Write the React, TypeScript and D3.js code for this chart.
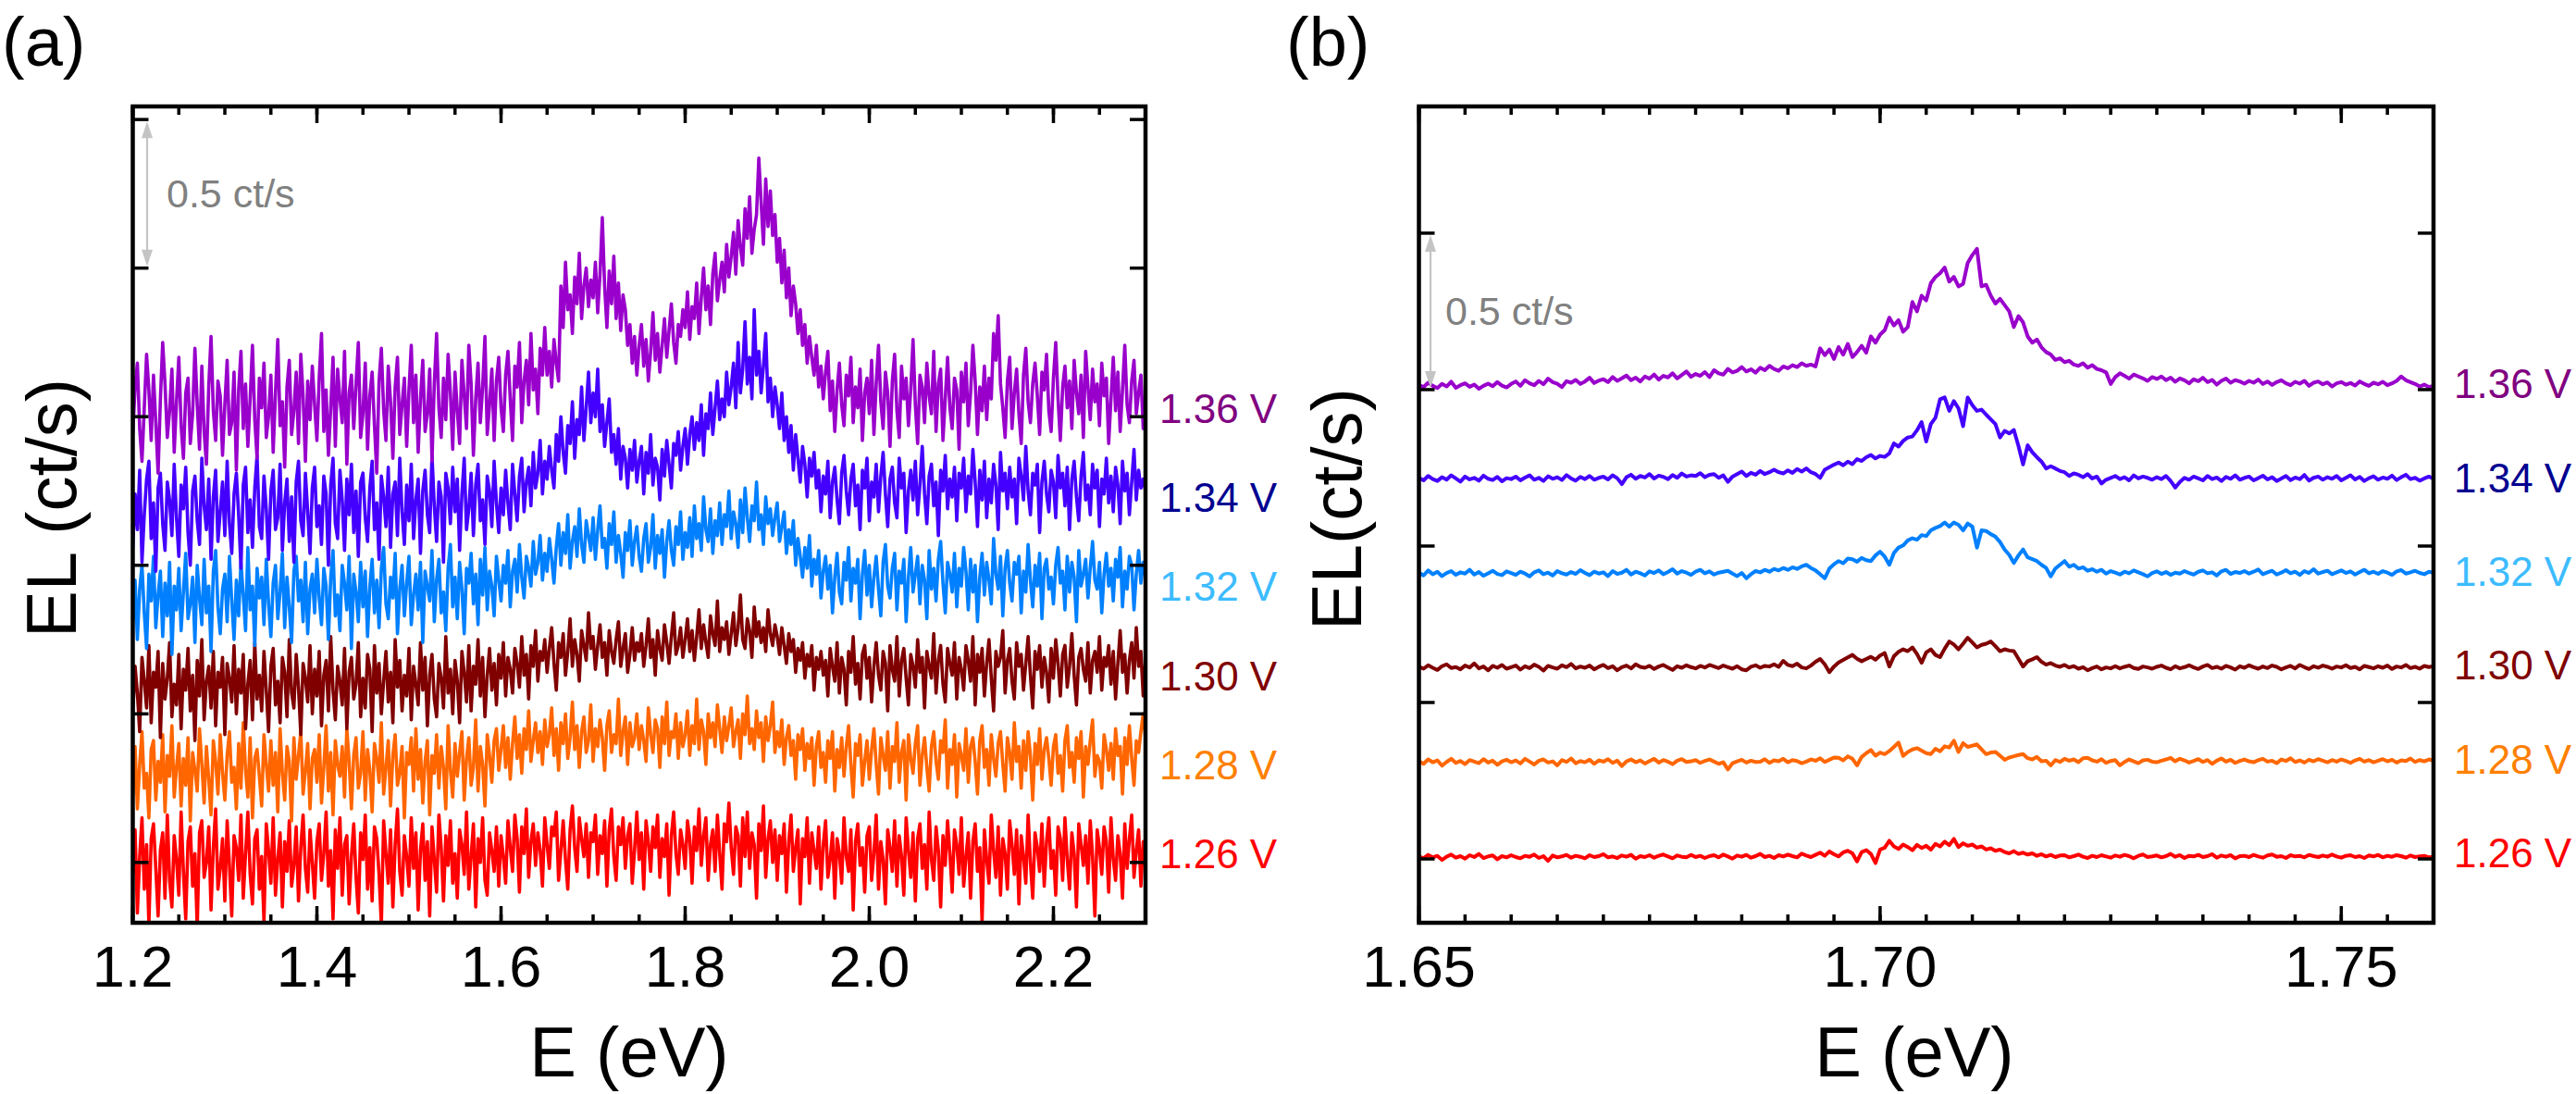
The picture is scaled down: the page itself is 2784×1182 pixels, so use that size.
import { useEffect } from "react";
import * as d3 from "d3";

// stacked EL spectra, one per bias voltage (top to bottom)
const voltages = ["1.36 V", "1.34 V", "1.32 V", "1.30 V", "1.28 V", "1.26 V"];
const offsets = [1.5, 1.2, 0.9, 0.6, 0.3, 0];
const traceColors = ["#9900cc", "#4400ff", "#0080ff", "#800000", "#ff6600", "#ff0000"];
const labelColors = ["#800080", "#000090", "#3cbcff", "#800000", "#ff8000", "#ff0000"];

// (a) wide scan: 1.2000-2.3000 eV every 2.5 meV, values in 0.01 ct/s above the offset
const eStartA = 1.2;
const eStepA = 0.0025;
const elA136 = [
  -6, 10, 18, -4, -15, 3, 21, 9, -8, 14, -2, -19, 6, 25, 11, -7, 2, 16, -12, 5,
  20, -3, -14, 8, 13, -9, 1, 23, 4, -11, 17, -5, -16, 10, 27, 2, -8, 12, 7, -13,
  4, 19, -6, -2, 15, -18, 9, 22, -4, 11, -10, 6, 24, -1, -14, 13, 3, 18, -7, 0,
  14, -12, 8, 26, -3, 5, -17, 10, 19, -6, 2, 15, -9, 21, 7, -15, 12, -1, 17, 4,
  -8, 13, 28, -5, 9, -13, 3, 20, -10, 16, 6, -2, 22, -16, 8, 14, -4, 11, 25, -7,
  1, 18, -11, 7, 15, -3, -19, 12, 23, 2, -8, 17, 5, -14, 10, 20, -6, 4, 13, -10,
  9, 24, -2, 14, -12, 6, 19, -5, 1, 16, -15, 11, 28, 3, -7, 13, -1, 21, 8, -11,
  15, 2, -9, 19, 7, -4, 24, 11, -13, 6, 18, -2, 10, 27, -6, 4, 16, -8, 12, 20,
  3, -5, 14, 22, 6, -8, 17, 10, 25, -2, 12, 19, 4, 28, 9, 16, 1, 23, 14, 30,
  14, 22, 10, 26, 18, 12, 44, 30, 52, 36, 41, 28, 47, 38, 55, 33, 44, 50, 37, 46,
  40, 52, 35, 48, 67, 44, 30, 49, 38, 54, 33, 45, 29, 41, 36, 24, 31, 18, 27, 14,
  24, 31, 17, 26, 12, 22, 35, 19, 28, 15, 24, 33, 20, 29, 38, 25, 18, 31, 27, 36,
  30, 42, 26, 37, 33, 45, 28, 40, 50, 36, 44, 31, 48, 55, 39, 46, 52, 42, 58, 47,
  54, 62, 48, 66, 57, 51, 70, 60, 74, 55, 63, 68, 87, 72, 58, 80, 64, 76, 61, 68,
  52, 60, 45, 56, 40, 50, 34, 44, 38, 28, 36, 24, 31, 18, 27, 20, 14, 24, 10, 17,
  6, 15, 22, 2, 12, -5, 9, 18, 4, -3, 14, 7, 20, -2, 10, 3, 16, -8, 8, 13,
  1, 19, -6, 11, 24, 5, -4, 15, 8, -10, 12, 21, 2, -7, 17, 6, 13, -3, 9, 26,
  4, -9, 14, 10, -2, 18, 7, 1, 22, -5, 11, 16, -8, 6, 20, 3, -4, 13, 9, -11,
  15, 5, 18, -3, 8, 24, 12, -6, 10, 2, 17, -1, 13, 6, 28, 19, 34, 11, 3, -7,
  12, 20, -4, 8, 16, 1, -9, 14, 23, 5, -2, 11, 18, 7, -6, 15, 9, 21, 2, -5,
  13, 25, 6, -8, 10, 17, 3, 12, -4, 19, 8, 1, 14, -7, 22, 10, -1, 16, 5, 11,
  -3, 18, 7, 13, -9, 6, 20, 2, 15, -5, 9, 24, 4, -2, 12, 19, 1, 8, 14, -4,
  6,
];
const elA134 = [
  -14, 4, -8, 12, -19, -3, 9, 15, -11, 1, -22, 6, 11, -6, -15, 8, 2, -10, 14, -4,
  -17, 7, -1, 13, -9, -20, 5, 10, -5, -13, 16, 0, -8, 9, -18, 3, 12, -12, -2, 8,
  -10, 15, -6, -16, 4, 11, -3, -21, 7, 13, -9, 2, -14, 6, 17, -7, -11, 10, -1, -18,
  5, 12, -8, -4, 14, -15, 1, 9, -12, 3, -19, 8, 15, -5, -10, 11, -2, -16, 6, 13,
  -7, 0, -13, 10, 4, -20, 7, 16, -6, -11, 12, 2, -15, 9, -3, 14, -9, 5, -17, 8,
  11, -4, -12, 6, 15, -8, 1, -18, 10, 3, -7, 13, -14, 4, 8, -10, 16, -2, -13, 7,
  -5, 14, -11, 2, 9, -16, 5, 12, -3, -9, 17, 0, -12, 8, 3, -19, 11, 6, -6, 13,
  -2, 9, -15, 4, 16, -8, -1, 11, -10, 7, 14, -5, 2, -13, 10, 5, -7, 15, 1, -9,
  6, -3, 12, 1, -8, 14, 4, -5, 10, 16, -2, 8, 13, 0, 18, 6, 11, 22, 4, 15,
  9, 20, 12, 6, 24, 15, 30, 18, 11, 27, 21, 35, 16, 29, 24, 40, 22, 33, 45, 28,
  38, 30, 46, 25, 34, 20, 28, 36, 18, 24, 14, 26, 9, 20, 16, 6, 19, 12, 22, 8,
  15, 20, 4, 18, 11, 24, 7, 16, 13, 2, 19, 10, 22, 14, 6, 21, 17, 25, 12, 20,
  26, 14, 24, 30, 19, 28, 22, 34, 17, 31, 26, 38, 24, 33, 42, 29, 36, 30, 45, 34,
  40, 48, 33, 55, 38, 46, 62, 41, 50, 36, 66, 44, 52, 38, 47, 58, 35, 43, 30, 40,
  34, 26, 38, 22, 30, 18, 27, 12, 24, 16, 8, 20, 14, 3, 16, 10, 18, 6, 12, -2,
  10, 4, 15, -4, 8, 13, 2, -6, 11, 17, 5, -3, 9, 14, 0, 7, -8, 12, 6, 16,
  -5, 8, 3, 14, -2, 10, 18, 4, -7, 9, 13, 1, -4, 16, 6, 11, -9, 5, 12, 2,
  15, -3, 7, 20, 4, -6, 10, 14, 0, 8, -10, 12, 5, 17, -1, 9, 3, 13, -5, 11,
  6, 16, -2, 10, 4, 19, 8, -7, 12, 2, 15, -4, 9, 1, 14, 7, -8, 18, 5, 11,
  -1, 13, 3, 9, -6, 16, 10, 2, 20, 5, -3, 11, 7, 14, -9, 8, 15, 4, -2, 12,
  8, -4, 17, 6, 11, 0, 13, -8, 9, 15, 3, -5, 10, 18, 2, 7, -3, 14, 6, 12,
  -7, 9, 4, 16, 1, 10, -2, 13, 7, -6, 15, 5, 11, -3, 8, 19, 2, 12, 6, 9,
  5,
];
const elA132 = [
  -9, 5, -15, 2, 10, -6, -18, 7, -2, 13, -11, 0, 8, -14, 4, -7, 11, -20, 3, -5,
  9, -12, 1, 14, -8, -3, 6, -16, 10, -1, -10, 12, -6, 3, -19, 8, 15, -4, -13, 2,
  7, -9, 13, -2, -15, 5, -7, 11, 0, -12, 16, -5, 3, -17, 9, -1, 6, -10, 12, -3,
  -14, 4, 10, -8, 1, 14, -11, 6, -4, -16, 8, 13, -2, 5, -9, 11, -13, 2, 7, -6,
  12, -1, -10, 9, 3, -15, 6, 15, -7, 0, -12, 10, 4, -5, 13, -18, 7, 1, -9, 11,
  -4, 8, -14, 3, 12, -6, 5, -11, 9, 16, -3, -8, 6, -1, 14, -13, 2, 10, -7, 4,
  13, -10, 0, 7, -5, 11, -16, 8, 3, -2, 15, -9, 5, 12, -6, 1, -12, 9, 17, -4,
  6, -8, 11, 2, -13, 9, 4, 14, -3, 7, -10, 12, 0, 16, -5, 8, 3, -7, 13, 5,
  -2, 10, 4, 15, -4, 8, 12, 1, 17, 6, -1, 13, 9, 3, 18, 7, 11, 20, 5, 14,
  8, 19, 12, 4, 16, 24, 10, 21, 14, 27, 9, 18, 23, 13, 29, 17, 11, 25, 20, 15,
  26, 12, 22, 30, 16, 19, 9, 24, 17, 28, 11, 20, 14, 6, 21, 15, 25, 10, 18, 23,
  13, 8, 19, 24, 11, 16, 27, 9, 20, 14, 22, 6, 18, 25, 15, 10, 23, 17, 28, 12,
  21, 16, 26, 13, 30, 19, 24, 15, 33, 22, 18, 29, 14, 25, 20, 31, 17, 27, 23, 35,
  19, 28, 24, 16, 32, 21, 36, 26, 18, 30, 25, 38, 22, 27, 17, 33, 24, 29, 20, 26,
  31, 18, 23, 28, 14, 22, 17, 25, 10, 19, 13, 6, 16, 9, 20, 3, 12, 7, 15, -1,
  8, 13, 2, 10, -6, 6, 14, 1, -3, 11, 5, 16, -2, 9, 4, 12, -8, 7, 15, 0,
  10, -4, 6, 13, 2, -7, 11, 17, 3, -1, 9, 14, -5, 8, 4, 12, -9, 6, 16, 1,
  7, 13, -3, 10, 5, -8, 15, 2, 9, -2, 12, 18, 4, -6, 11, 7, 1, 14, -4, 9,
  3, 16, 8, -5, 12, 1, 10, -9, 6, 14, 0, 11, 5, -3, 19, 7, 2, 13, -7, 9,
  15, 4, -2, 11, 7, 13, -6, 8, 1, 17, 5, -4, 10, 3, 14, -8, 9, 12, 2, 6,
  -3, 10, 16, 4, 8, -5, 13, 1, 11, 6, -9, 15, 3, 7, 12, -1, 9, 18, 5, 2,
  11, -6, 7, 14, 3, 9, -2, 12, 6, 16, -4, 8, 2, 13, 10, -5, 7, 15, 4, 11,
  6,
];
const elA130 = [
  -10, 6, -3, -16, 9, 1, -8, 13, -13, 4, -1, 11, -18, 7, -5, 2, 14, -11, 0, -7,
  10, -15, 5, -2, 12, -9, 3, -19, 8, -4, 15, -12, 1, 6, -8, 11, -14, 4, -1, 9,
  -17, 7, 2, -6, 13, -10, 5, -3, 10, -15, 0, 8, -12, 14, -5, 3, -9, 11, -2, -16,
  6, 12, -7, 1, -13, 9, 4, -11, 15, -3, -8, 10, -1, -17, 7, 2, -6, 13, -10, 5,
  -4, 11, -14, 3, 8, -9, 16, -2, -12, 6, 1, -7, 12, -15, 4, 9, -5, 0, 14, -11,
  2, -8, 10, 5, -16, 13, -3, 7, -10, 1, 11, -6, 4, -13, 15, -1, 8, -9, 3, -4,
  12, -12, 6, 0, -7, 14, -2, 9, -14, 3, 10, -5, -11, 7, 2, -8, 16, -3, 5, -10,
  8, 1, -13, 11, 4, -6, 13, -9, 6, 0, 15, -4, 9, -11, 3, 12, -2, 7, -7, 10,
  2, 14, -4, 9, 5, -3, 12, 7, -1, 16, 3, 10, -5, 13, 6, 18, 1, 11, 8, 15,
  4, 12, 19, 7, -2, 14, 9, 17, 3, 11, 22, 6, 15, 10, 1, 18, 13, 8, 24, 12,
  16, 5, 13, 20, 9, 14, 3, 18, 11, 7, 15, 21, 6, 12, 17, 4, 10, 19, 8, 14,
  11, 17, 6, 13, 22, 9, 15, 3, 18, 12, 8, 20, 14, 7, 16, 24, 10, 13, 19, 9,
  15, 22, 11, 18, 8, 16, 25, 12, 20, 14, 9, 23, 17, 13, 28, 11, 19, 15, 21, 10,
  17, 24, 13, 19, 30, 15, 12, 22, 18, 9, 26, 16, 21, 14, 19, 11, 25, 17, 13, 20,
  16, 10, 19, 13, 7, 17, 11, 15, 4, 12, 8, 14, 2, 10, 6, 13, -2, 9, 5, 11,
  3, 8, -4, 12, 6, 1, 14, -3, 9, 5, -7, 11, 4, 16, 0, 7, -5, 10, 13, 2,
  9, -6, 6, 14, 3, -2, 11, 7, -9, 13, 5, 1, 16, -4, 8, 12, 2, -7, 10, 6,
  -1, 15, 4, 9, -8, 11, 6, 2, 17, -3, 8, 13, 0, -6, 12, 7, 3, 14, -5, 9,
  5, -2, 13, 8, 1, 16, -7, 10, 4, 12, -4, 7, 15, 2, -9, 11, 6, 9, 18, -3,
  8, 12, 1, -5, 14, 6, 10, -2, 7, 16, 3, -8, 11, 5, 13, -1, 9, 4, -6, 12,
  2, 15, 7, -4, 10, 13, -1, 6, 17, 3, -7, 9, 12, 5, 1, 14, -3, 8, 11, 4,
  16, -2, 9, 6, 13, 0, 11, -5, 7, 18, 4, 10, -3, 8, 14, 2, 19, 6, 11, -4,
  8,
];
const elA128 = [
  -7, 9, -12, 3, 14, -5, 0, -15, 8, 11, -9, 4, -3, 13, -13, 6, -1, 16, -8, 2,
  10, -11, 5, -4, 12, -16, 7, 1, -6, 15, 3, -10, 9, -2, -14, 11, 4, -7, 13, 0,
  -9, 6, 14, -3, 2, -12, 10, -5, 17, 1, -8, 12, -15, 5, 8, -1, -11, 13, 3, -6,
  11, -4, 7, -13, 15, 0, -9, 9, 4, -16, 12, -2, 6, 14, -7, 1, 10, -12, 5, 8,
  -3, 13, -10, 2, 16, -6, 7, -14, 11, 3, -1, 9, -8, 15, 4, -12, 6, 12, -5, 0,
  14, -9, 8, 1, -13, 10, 5, -3, 17, -7, 2, 11, -11, 6, 13, -4, 0, 9, -15, 7,
  3, 12, -6, 15, -2, 8, -10, 4, 11, -14, 6, 0, 13, -5, 9, 2, -12, 16, 1, -8,
  10, -1, 7, 14, -9, 5, 12, -4, 2, 18, -6, 9, 3, -11, 13, 6, -3, 11, 15, 1,
  8, 16, 2, 12, -2, 10, 19, 5, 13, 0, 15, 8, 21, 4, 11, 17, 7, 14, 3, 18,
  9, 13, 22, 6, 15, 1, 17, 10, 20, 5, 12, 24, 8, 16, 2, 14, 19, 7, 11, 23,
  4, 15, 9, 18, 12, 1, 16, 21, 7, 13, 10, 25, 6, 14, 19, 3, 17, 9, 12, 20,
  8, 16, 11, 4, 22, 13, 7, 18, 15, 2, 19, 10, 24, 6, 14, 12, 20, 5, 17, 9,
  13, 21, 6, 16, 10, 25, 8, 18, 14, 3, 20, 12, 17, 9, 23, 15, 7, 19, 11, 16,
  22, 9, 14, 18, 5, 20, 13, 26, 10, 15, 8, 21, 12, 17, 4, 19, 11, 16, 24, 7,
  14, 9, 18, 3, 12, 16, 6, 11, -2, 13, 8, 15, 1, 10, 5, 12, -4, 9, 14, 2,
  7, -3, 11, 5, 14, -6, 8, 2, 12, -1, 9, 16, 3, -8, 10, 6, 13, -4, 4, 11,
  -2, 8, 15, 3, -7, 12, 6, 1, 14, -5, 9, 4, 17, -3, 7, 11, -9, 13, 5, 0,
  10, 16, -4, 6, 12, 2, -6, 9, 14, 4, -2, 11, 7, 18, -5, 8, 3, 13, -8, 10,
  6, 1, 15, -3, 9, 12, 4, -7, 11, 16, 2, 8, -4, 13, 5, -1, 10, 14, 3, -6,
  12, 7, -2, 17, 4, 9, -5, 11, 1, 14, 6, -9, 10, 3, 15, -2, 8, 12, 5, -4,
  9, 13, 0, 6, -6, 11, 16, 2, 7, -3, 12, 5, 14, -8, 9, 3, 11, 18, -1, 6,
  4, -5, 13, 8, 1, 10, -2, 15, 6, 9, -7, 12, 3, 16, 5, -4, 11, 7, 14, 20,
  12,
];
const elA126 = [
  -4, 11, -17, 2, 15, -9, 6, -21, 8, 13, -2, -18, 4, 10, -12, 16, -6, -15, 9, 1,
  -11, 17, -3, -19, 7, 12, -8, 3, -22, 10, 14, -5, 0, 12, -16, 5, 18, -9, -2, 8,
  -13, 14, -1, -18, 9, 5, -6, 16, -12, 3, 17, -4, -14, 8, 11, -9, 2, -20, 13, 4,
  -7, 15, -11, 1, 10, -15, 7, -3, 14, -8, -1, 12, -13, 5, 16, -2, -10, 11, 0, -12,
  7, 13, -6, 3, 17, -8, 4, -19, 11, -2, 15, -11, 6, 9, -14, 2, 13, -5, -17, 10,
  1, 16, -9, 5, -13, 12, 8, -4, -21, 14, 3, -7, 11, -15, 6, 18, -3, -11, 9, 2,
  -8, 15, -2, 10, -16, 4, 13, -6, 7, -18, 12, 1, -10, 16, 5, -13, 9, -1, 14, -7,
  3, -12, 11, 6, -4, 17, -9, 2, 13, -15, 8, 0, 15, -6, -11, 10, 4, -3, 12, -8,
  9, 2, -7, 14, 5, -3, 16, 8, -10, 12, 3, 18, -5, 7, 13, -1, 10, 4, -8, 15,
  6, -2, 12, 9, 17, -6, 4, 14, 1, -9, 11, 19, 5, -3, 15, 8, 2, 13, -5, 10,
  7, 16, -4, 9, 3, 14, -8, 11, 18, 2, -6, 12, 6, 15, -2, 9, 13, -7, 4, 17,
  1, 10, -9, 14, 7, -3, 12, 5, 16, -5, 8, 2, 13, -11, 9, 17, 3, -4, 11, 6,
  -2, 14, 8, -7, 12, 4, 18, -1, 9, 15, -6, 6, 11, -3, 16, 3, -9, 13, 7, 20,
  5, -4, 12, 9, -8, 15, 2, 17, -2, 10, 6, -12, 13, 4, 19, -5, 8, 14, 0, 11,
  -6, 9, 3, 13, -10, 7, 16, -3, 5, 11, -14, 8, 2, 15, -7, 10, 4, -2, 12, -9,
  6, 14, -5, 1, 10, -12, 8, 3, -7, 15, 2, -3, 11, -16, 7, 13, -1, 5, -10, 9,
  12, -6, 3, 16, -9, 7, 1, -14, 11, 5, -3, 14, -8, 9, 2, -11, 15, 4, -5, 10,
  -13, 8, 13, -2, 6, -9, 17, 1, -6, 12, 4, -15, 9, -1, 14, 3, -10, 11, 6, -4,
  15, -8, 2, 10, -12, 7, 13, -3, 5, -20, 11, 1, -7, 16, 4, -5, 12, -11, 8, 3,
  -9, 14, 6, -4, 11, -14, 9, 2, -7, 16, 0, -12, 10, 5, -3, 13, -8, 7, 15, -2,
  4, -11, 12, 8, -6, 15, 1, -9, 10, 3, -15, 13, 6, -1, 9, -7, 14, 2, -18, 11,
  5, -4, 12, 7, -10, 15, 1, -6, 9, 3, -12, 13, -2, 8, 16, -5, 4, 11, -8, 7,
  2,
];

// (b) zoom on the peak: 1.650-1.760 eV every 0.5 meV, values in 0.001 ct/s above the offset
const eStartB = 1.65;
const eStepB = 0.0005;
const elB136 = [
  15, 8, 22, 12, 5, 18, 10, 25, 6, 14, 20, 9, 16, 3, 12, 19, 11, 24, 13, 7,
  18, 26, 12, 30, 20, 14, 28, 17, 35, 24, 19, 8, 27, 22, 31, 18, 26, 38, 21, 29,
  33, 24, 40, 28, 36, 45, 30, 38, 26, 42, 35, 48, 32, 44, 39, 52, 36, 47, 58, 41,
  50, 44, 56, 40, 62, 52, 48, 66, 55, 60, 72, 58, 65, 54, 70, 62, 76, 66, 60, 74,
  68, 78, 72, 84, 76, 80, 74, 132, 110, 128, 98, 136, 112, 146, 104, 120, 140, 118, 170, 150,
  176, 190, 230, 205, 222, 185, 200, 280, 250, 300, 285, 340, 360, 372, 390, 345, 360, 330, 338, 405,
  430, 450, 330, 335, 300, 275, 290, 270, 250, 200, 235, 215, 170, 150, 160, 135, 120, 112, 95, 100,
  88, 92, 80, 76, 84, 70, 78, 66, 62, 55, 18, 40, 52, 44, 35, 48, 42, 36, 28, 40,
  34, 42, 30, 38, 25, 36, 30, 20, 33, 27, 38, 24, 31, 16, 28, 35, 22, 30, 26, 19,
  28, 22, 32, 18, 26, 15, 24, 30, 20, 14, 25, 19, 28, 12, 22, 26, 17, 23, 10, 20,
  24, 16, 21, 13, 26, 18, 12, 22, 17, 25, 14, 20, 28, 42, 30, 24, 18, 10, 16, 8, 12,
];
const elB134 = [
  18, 10, 24, 14, 8, 20, 12, 26, 16, 6, 22, 13, 18, 9, 25, 15, 11, 21, 7, 17,
  14, 22, 10, 19, 26, 12, 18, 8, 23, 15, 20, 11, 27, 16, 9, 21, 14, 24, 12, 18,
  22, 13, 26, 17, -2, 20, 28, 15, 24, 19, 30, 16, 25, 21, 14, 27, 18, 32, 22, 26,
  24, 33, 20, 28, 30, 18, 26, 5, 22, 30, 38, 24, 34, 28, 40, 30, 36, 44, 36, 32,
  42, 34, 46, 38, 48, 36, 30, 18, 44, 52, 60, 67, 58, 70, 62, 78, 72, 84, 91, 80,
  88, 85, 96, 128, 118, 136, 147, 150, 170, 196, 134, 190, 210, 269, 275, 232, 263, 240, 183, 275,
  250, 232, 236, 220, 205, 190, 147, 168, 160, 171, 120, 61, 122, 100, 84, 70, 48, 55, 48, 40,
  36, 24, 32, 28, 20, 30, 16, 22, 0, 12, 18, 24, 14, 20, 10, 26, 16, 22, 18, 12,
  20, 14, 24, 8, -13, 5, 18, 12, 22, 16, 10, 24, 14, 19, 8, 21, 15, 26, 12, 18,
  22, 10, 17, 25, 13, 20, 8, 16, 24, 11, 19, 14, 27, 9, 18, 22, 12, 20, 15, 24,
  10, 18, 26, 13, 21, 8, 17, 23, 12, 19, 15, 25, 11, 20, 28, 14, 18, 9, 16, 22, 15,
];
const elB132 = [
  15, 6, 22, 10, 18, 4, 14, 20, 8, 16, 12, 24, 9, 17, 5, 13, 21, 11, 7, 19,
  14, 8, 18, 12, 3, 16, 22, 10, 15, 6, 20, 13, 9, 17, 11, 23, 14, 7, 18, 12,
  16, 4, 20, 11, 15, 24, 9, 18, 13, 6, 19, 14, 22, 10, 17, 26, 12, 20, 15, 8,
  18, 24, 13, 19, 9, 15, 18, 21, 12, 4, 14, -3, 10, 20, 16, 24, 18, 27, 22, 30,
  24, 32, 27, 35, 40, 30, 22, 10, -3, 28, 42, 52, 45, 60, 58, 50, 62, 55, 52, 70,
  82, 66, 40, 78, 95, 102, 118, 125, 120, 135, 132, 150, 158, 164, 175, 162, 175, 168, 150, 172,
  162, 95, 150, 148, 138, 130, 113, 89, 72, 46, 70, 89, 64, 58, 52, 40, 30, 3, 28, 40,
  52, 34, 40, 28, 32, 21, 26, 18, 24, 12, 20, 15, 9, 18, 13, 22, 16, 10, 3, 14,
  19, 11, 17, 8, 15, 12, 20, 14, 9, 18, 22, 13, 16, 6, 19, 24, 11, 17, 14, 20,
  12, 18, 25, 10, 16, 21, 9, 15, 23, 13, 18, 8, 20, 14, 26, 12, 17, 21, 10, 16,
  22, 14, 19, 9, 17, 24, 13, 18, 11, 20, 15, 8, 19, 23, 12, 16, 21, 14, 10, 18, 15,
];
const elB130 = [
  14, 8, 19, 11, 4, 16, 22, 10, 13, 6, 18, 12, 25, 9, 15, 3, 17, 11, 20, 8,
  13, 18, 5, 16, 10, 21, 14, 2, 17, 12, 8, 19, 13, 23, 9, 15, 11, 18, 6, 14,
  20, 10, 16, 3, 13, 18, 9, 22, 14, 11, 17, 7, 15, 20, 12, 4, 16, 11, 19, 13,
  9, 17, 12, 20, 15, 10, 18, 13, 8, 16, 6, 3, 14, 19, 11, 17, 15, 22, 14, 33,
  20, 16, 24, 12, 9, 18, 30, 39, 22, -3, 15, 28, 36, 44, 52, 40, 32, 39, 46, 37,
  50, 58, 15, 48, 62, 70, 64, 76, 55, 27, 60, 70, 52, 45, 72, 95, 85, 70, 88, 107,
  92, 76, 84, 88, 95, 80, 64, 70, 66, 64, 40, 15, 32, 38, 45, 30, 21, 26, 18, 14,
  20, 12, 16, 8, 13, 3, 10, 15, 6, 12, 9, 16, 9, 14, 18, 10, 7, 15, 12, 8,
  14, 18, 11, 6, 16, 9, 13, 19, 12, 7, 15, 20, 10, 14, 8, 17, 12, 5, 16, 11,
  19, 13, 8, 15, 10, 18, 14, 6, 12, 17, 9, 20, 13, 7, 16, 11, 18, 14, 8, 15,
  12, 19, 10, 14, 6, 17, 13, 9, 16, 11, 18, 7, 15, 12, 20, 10, 14, 8, 17, 13, 16,
];
const elB128 = [
  12, 4, 18, 9, 15, -2, 10, 20, 7, 13, 3, 16, 11, 6, 19, 8, 14, 1, 12, 17,
  9, 15, 5, 20, 11, 2, 14, 18, 8, 12, -1, 16, 10, 21, 6, 13, 9, 17, 4, 15,
  11, 19, 7, 14, -3, 12, 18, 9, 15, 5, 13, 20, 8, 16, 11, 3, 14, 19, 10, 12,
  16, 7, 13, 18, 11, 4, 9, -14, 6, 12, 17, 8, 14, 10, 11, 19, 7, 15, 12, 20,
  9, 16, 13, 6, 11, 18, 14, 22, 10, 17, 24, 23, 15, 28, 20, -1, 26, 38, 48, 30,
  40, 35, 45, 58, 72, 29, 42, 50, 54, 46, 38, 35, 52, 44, 60, 56, 78, 42, 70, 58,
  62, 66, 50, 35, 40, 42, 30, 17, 24, 28, 32, 35, 22, 18, 26, 12, 14, -1, 16, 10,
  20, 14, 18, 9, 22, 23, 15, 11, 19, 7, 13, 16, -1, 10, 18, 12, 6, 15, 17, 11,
  9, 14, 18, 23, 12, 20, 15, 8, 13, 19, 10, 16, 4, 14, 21, 11, 17, 7, 13, 18,
  12, 9, 16, 20, 11, 14, 6, 18, 13, 22, 10, 15, 8, 17, 12, 19, 14, 9, 16, 11,
  18, 13, 7, 15, 20, 11, 16, 9, 14, 19, 12, 17, 8, 15, 13, 21, 10, 16, 12, 18, 14,
];
const elB126 = [
  8, 2, 13, 5, 10, -3, 7, 14, 4, 9, 1, 12, 6, 16, 3, 8, 11, -1, 9, 5,
  12, 6, 2, 10, 7, 14, 3, 9, -6, 11, 5, 8, 13, 4, 10, 7, 2, 12, 6, 9,
  15, 5, 8, 3, 11, 7, 13, 1, 9, 6, 12, 4, 10, 14, 8, 2, 11, 7, 5, 13,
  6, 10, 3, 9, 12, 5, 14, 8, 1, 11, 7, 13, 4, 9, 16, 6, 10, 3, 12, 8,
  14, 9, 5, 17, 11, 6, 13, 20, 10, 24, 15, 8, 21, 26, 18, -8, 22, 28, 16, -13,
  30, 36, 58, 40, 32, 46, 38, 28, 45, 35, 42, 30, 48, 40, 55, 44, 64, 38, 50, 42,
  46, 36, 40, 30, 34, 26, 30, 22, 18, 25, 16, 20, 14, 18, 10, 15, 8, 13, 6, 11,
  12, 5, 9, 14, 7, 3, 10, 6, 12, 8, 4, 11, 7, 13, 9, 2, 10, 14, 6, 8,
  11, 5, 9, 16, 7, 12, 3, 10, 8, 13, 6, 9, 15, 4, 11, 7, 12, 2, 9, 10,
  6, 13, 8, 4, 11, 14, 7, 9, 3, 12, 8, 10, 5, 13, 9, 6, 11, 7, 14, 8,
  4, 10, 12, 6, 9, 3, 11, 8, 13, 5, 10, 7, 12, 9, 4, 11, 6, 8, 10, 5, 7,
];

const xTicksA = [1.2, 1.4, 1.6, 1.8, 2.0, 2.2];
const xTicksB = [1.65, 1.7, 1.75];
const yTicksA = [0, 0.5, 1, 1.5, 2, 2.5];
const yTicksB = [0, 0.5, 1, 1.5, 2];

const FONT = "'Liberation Sans', Arial, Helvetica, sans-serif";

function Panel(p: any) {
  const x = d3.scaleLinear().domain(p.xDomain).range([p.left, p.right]);
  const y = d3.scaleLinear().domain(p.yDomain).range([p.bottom, p.top]);
  const line = d3
    .line<number>()
    .x((_, i) => x(p.eStart + i * p.eStep))
    .y((d) => y(d));

  const nMinor = Math.round((p.xDomain[1] - p.xDomain[0]) / p.minorStep);
  const minor = d3.range(nMinor + 1).map((i) => p.xDomain[0] + i * p.minorStep);
  const fmt = d3.format(p.tickFormat);

  const barTop = y(p.bar[0]);
  const barBot = y(p.bar[1]);
  const head = 18;
  const hw = 6;

  const order = p.series.map((s: number[], k: number) => k).reverse();

  return (
    <g>
      <defs>
        <clipPath id={p.id}>
          <rect x={p.left} y={p.top} width={p.right - p.left} height={p.bottom - p.top} />
        </clipPath>
      </defs>
      <g clipPath={`url(#${p.id})`}>
        {order.map((k: number) => (
          <path
            key={k}
            d={line(p.series[k].map((v: number) => v * p.unit + offsets[k])) || ""}
            fill="none"
            stroke={traceColors[k]}
            strokeWidth={p.lineWidth}
            strokeLinejoin="round"
          />
        ))}
      </g>

      {/* 0.5 ct/s scale bar */}
      <line x1={p.barX} x2={p.barX} y1={barTop + head - 2} y2={barBot - head + 2} stroke="#c4c4c4" strokeWidth={2.2} />
      <polygon
        points={`${p.barX},${barTop + 2} ${p.barX - hw},${barTop + 2 + head} ${p.barX + hw},${barTop + 2 + head}`}
        fill="#c4c4c4"
      />
      <polygon
        points={`${p.barX},${barBot - 2} ${p.barX - hw},${barBot - 2 - head} ${p.barX + hw},${barBot - 2 - head}`}
        fill="#c4c4c4"
      />
      <text x={p.barTextX} y={(barTop + barBot) / 2 + 15} fontSize={43} fill="#808080" fontFamily={FONT}>
        0.5 ct/s
      </text>

      {/* ticks, inward on all four sides */}
      <g stroke="#000" strokeWidth={3.5}>
        {minor.map((v, i) => (
          <g key={"m" + i}>
            <line x1={x(v)} x2={x(v)} y1={p.top} y2={p.top + 9} />
            <line x1={x(v)} x2={x(v)} y1={p.bottom} y2={p.bottom - 9} />
          </g>
        ))}
        {p.xTicks.map((v: number) => (
          <g key={"M" + v}>
            <line x1={x(v)} x2={x(v)} y1={p.top} y2={p.top + 18} />
            <line x1={x(v)} x2={x(v)} y1={p.bottom} y2={p.bottom - 18} />
          </g>
        ))}
        {p.yTicks.map((v: number) => (
          <g key={"y" + v}>
            <line x1={p.left} x2={p.left + 17} y1={y(v)} y2={y(v)} />
            <line x1={p.right} x2={p.right - 17} y1={y(v)} y2={y(v)} />
          </g>
        ))}
      </g>
      <rect
        x={p.left}
        y={p.top}
        width={p.right - p.left}
        height={p.bottom - p.top}
        fill="none"
        stroke="#000"
        strokeWidth={4.5}
      />

      {p.xTicks.map((v: number) => (
        <text key={"t" + v} x={x(v)} y={1066} fontSize={63} textAnchor="middle" fontFamily={FONT}>
          {fmt(v)}
        </text>
      ))}

      {voltages.map((v, k) => (
        <text
          key={v}
          x={p.right + p.labelGap}
          y={y(offsets[k] + p.labelLift) + 16}
          fontSize={44}
          fill={labelColors[k]}
          fontFamily={FONT}
        >
          {v}
        </text>
      ))}

      <text x={p.xTitleX} y={1163} fontSize={76} textAnchor="middle" fontFamily={FONT}>
        E (eV)
      </text>
      <text
        transform={`translate(${p.yTitleX},${p.yTitleY}) rotate(-90)`}
        fontSize={76}
        textAnchor="middle"
        fontFamily={FONT}
      >
        {p.yTitle}
      </text>
      <text x={p.letterX} y={71} fontSize={74} fontFamily={FONT}>
        {p.letter}
      </text>
    </g>
  );
}

export default function App() {
  useEffect(() => {
    document.body.style.margin = "0";
  }, []);

  return (
    <svg width={2784} height={1182} style={{ display: "block", background: "#fff" }}>
      <Panel
        id="clipA"
        left={143.5}
        right={1238}
        top={115}
        bottom={997}
        xDomain={[1.2, 2.3]}
        yDomain={[-0.203, 2.544]}
        eStart={eStartA}
        eStep={eStepA}
        unit={0.01}
        lineWidth={3.6}
        series={[elA136, elA134, elA132, elA130, elA128, elA126]}
        minorStep={0.05}
        xTicks={xTicksA}
        yTicks={yTicksA}
        tickFormat=".1f"
        bar={[2.5, 2.0]}
        barX={159}
        barTextX={180}
        labelGap={15}
        labelLift={0.03}
        xTitleX={680}
        yTitle="EL (ct/s)"
        yTitleX={82}
        yTitleY={549}
        letter="(a)"
        letterX={2}
      />
      <Panel
        id="clipB"
        left={1533.5}
        right={2630}
        top={115}
        bottom={997}
        xDomain={[1.65, 1.76]}
        yDomain={[-0.204, 2.405]}
        eStart={eStartB}
        eStep={eStepB}
        unit={0.001}
        lineWidth={4}
        series={[elB136, elB134, elB132, elB130, elB128, elB126]}
        minorStep={0.005}
        xTicks={xTicksB}
        yTicks={yTicksB}
        tickFormat=".2f"
        bar={[2.0, 1.5]}
        barX={1546}
        barTextX={1562}
        labelGap={22}
        labelLift={0.02}
        xTitleX={2069}
        yTitle="EL(ct/s)"
        yTitleX={1471}
        yTitleY={550}
        letter="(b)"
        letterX={1390}
      />
    </svg>
  );
}
